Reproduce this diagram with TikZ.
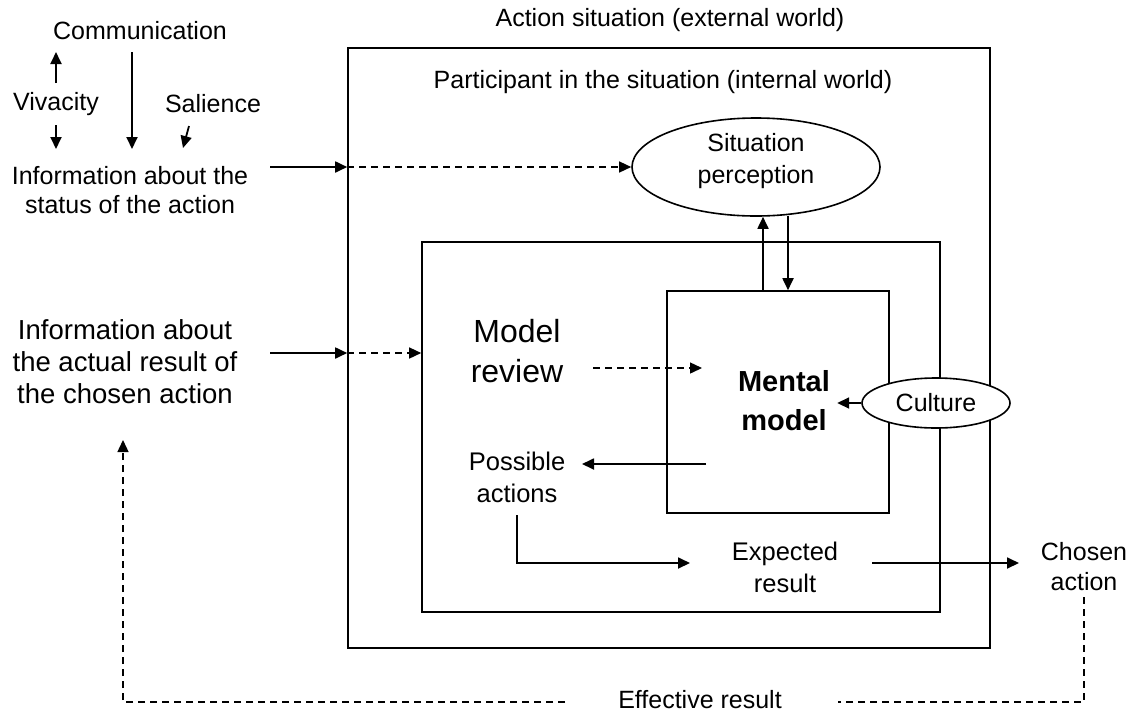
\documentclass[tikz,border=0pt]{standalone}
\usepackage{fontspec}
\setmainfont{Liberation Sans}
\usetikzlibrary{arrows.meta,shapes.geometric,calc}
\begin{document}
\begin{tikzpicture}[x=1pt,y=-1pt,
  lbl/.style={align=center,inner sep=0pt,font=\fontsize{25}{29}\selectfont},
  bigl/.style={align=center,inner sep=0pt,font=\fontsize{27.5}{32}\selectfont},
  boxr/.style={draw,line width=1.6pt,inner sep=0pt},
  arr/.style={line width=1.8pt,-{Triangle[length=12pt,width=11pt]}},
  darr/.style={line width=1.4pt,dash pattern=on 7pt off 5pt,-{Triangle[length=12pt,width=11pt]}},
  dline/.style={line width=1.4pt,dash pattern=on 7pt off 5pt}]
\fill[white] (0,0) rectangle (1145,713);
\useasboundingbox (0,0) rectangle (1145,713);
% boxes
\node[boxr,minimum width=642pt,minimum height=600pt] (outer) at (669,348) {};
\node[boxr,minimum width=518pt,minimum height=370pt] (inner) at (681,427) {};
\node[boxr,minimum width=222pt,minimum height=222pt] (mental) at (778,402) {};
\node[draw,ellipse,line width=1.6pt,minimum width=248pt,minimum height=98pt,inner sep=0pt] (sit) at (756,167) {};
\node[align=center,inner sep=0pt,font=\fontsize{25}{32}\selectfont] (sittxt) at (756,161) {Situation\\perception};
\node[draw,ellipse,line width=1.6pt,fill=white,minimum width=148pt,minimum height=50pt,inner sep=0pt] (cul) at (936,403) {};
\node[lbl] (cultxt) at (936,403) {Culture};
% texts
\node[lbl] (act) at (670,20) {Action situation (external world)};
\node[lbl] (part) at (663,82) {Participant in the situation (internal world)};
\node[lbl] (comm) at (140,31) {Communication};
\node[lbl] (viv) at (56,104) {Vivacity};
\node[lbl] (sal) at (213,104) {Salience};
\node[lbl] (info1) at (130,190) {Information about the\\status of the action};
\node[bigl] (info2) at (125,362) {Information about\\the actual result of\\the chosen action};
\node[align=center,inner sep=0pt,font=\fontsize{32}{40}\selectfont] (review) at (517,351) {Model\\review};
\node[align=center,inner sep=0pt,font=\fontsize{29}{39}\bfseries] (mtxt) at (784,401) {Mental\\model};
\node[align=center,inner sep=0pt,font=\fontsize{25.5}{32}\selectfont] (poss) at (517,477) {Possible\\actions};
\node[align=center,inner sep=0pt,font=\fontsize{25.5}{32}\selectfont] (exp) at (785,567) {Expected\\result};
\node[align=center,inner sep=0pt,font=\fontsize{25}{30}\selectfont] (chosen) at (1084,567) {Chosen\\action};
\node[lbl] (eff) at (700,700) {Effective result};
% top-left arrows
\coordinate (v1) at (56,83); \coordinate (v2) at (56,52);
\draw[arr] (v1) -- (v2);
\coordinate (v3) at (56,125); \coordinate (v4) at (56,149);
\draw[arr] (v3) -- (v4);
\coordinate (c1) at (132,52); \coordinate (c2) at (132,149);
\draw[arr] (c1) -- (c2);
\coordinate (s1) at (189,126); \coordinate (s2) at (183,148);
\draw[arr] (s1) -- (s2);
% info 1
\coordinate (i1) at (270,167);
\draw[arr] (i1) -- (i1 -| outer.west);
\draw[darr] (i1 -| outer.west) -- (sit.west);
% info 2
\coordinate (i2) at (270,353);
\draw[arr] (i2) -- (i2 -| outer.west);
\draw[darr] (i2 -| outer.west) -- (i2 -| inner.west);
% situation <-> mental
\coordinate (u) at (763,0); \coordinate (d) at (788,0);
\draw[arr] (u |- mental.north) -- (u |- sit.south);
\draw[arr] (d |- 0,216) -- (d |- mental.north);
% model review -> mental
\coordinate (r1) at (593,368); \coordinate (r2) at (702,368);
\draw[darr] (r1) -- (r2);
% culture
\draw[arr] (cul.west) -- ++(-24,0);
% mental -> possible
\coordinate (m1) at (706,464); \coordinate (p1) at (582,464);
\draw[arr] (m1) -- (p1);
% possible -> expected
\coordinate (p2) at (517,515); \coordinate (e1) at (690,563);
\draw[arr] (p2) |- (e1);
% expected -> chosen
\coordinate (e2) at (872,563); \coordinate (ch1) at (1019,563);
\draw[arr] (e2) -- (ch1);
% feedback
\coordinate (f1) at (1084,597); \coordinate (f2) at (838,702);
\draw[dline] (f1) |- (f2);
\coordinate (f3) at (565,702); \coordinate (f4) at (123,440);
\draw[darr] (f3) -| (f4);
\end{tikzpicture}
\end{document}
